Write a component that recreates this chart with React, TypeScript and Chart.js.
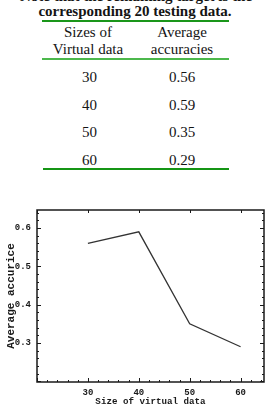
import React, { useEffect, useRef } from "react";
import { Chart, registerables } from "chart.js";

Chart.register(...registerables);

// ---- data ----
const captionLines = ["Note that the remaining target is the", "corresponding 20 testing data."];
const headerCol1 = ["Sizes of", "Virtual data"];
const headerCol2 = ["Average", "accuracies"];
const sizes = [30, 40, 50, 60];
const accuracies = [0.56, 0.59, 0.35, 0.29];
const xTickValues = [30, 40, 50, 60];
const yTickValues = [0.3, 0.4, 0.5, 0.6];
const xTitle = "Size of virtual data";
const yTitle = "Average accurice";

const SERIF = "'Liberation Serif', 'Times New Roman', serif";
const MONO = "'Liberation Mono', 'DejaVu Sans Mono', monospace";

function Txt(props: { text: string; cx: number; baseline: number; size: number; bold?: boolean }) {
  const { text, cx, baseline, size, bold } = props;
  return (
    <div
      style={{
        position: "absolute",
        left: cx - 150,
        width: 300,
        textAlign: "center",
        top: baseline - 0.8375 * size,
        fontSize: size,
        lineHeight: `${size}px`,
        fontFamily: SERIF,
        fontWeight: bold ? "bold" : "normal",
        color: "#141414",
        whiteSpace: "nowrap",
      }}
    >
      {text}
    </div>
  );
}

function Rule(props: { top: number; x1: number; x2: number; h: number; color: string }) {
  const { top, x1, x2, h, color } = props;
  return <div style={{ position: "absolute", left: x1, width: x2 - x1, top, height: h, background: color }} />;
}

const framePlugin = {
  id: "mmaFrame",
  afterDraw(chart: any) {
    const { ctx, chartArea: a, scales } = chart;
    const x = scales.x;
    const y = scales.y;
    ctx.save();
    ctx.strokeStyle = "#1a1a1a";
    ctx.lineWidth = 1;
    ctx.beginPath();
    for (let i = 10; i <= 32; i++) {
      const v = i * 2;
      const px = Math.round(x.getPixelForValue(v)) + 0.5;
      const major = i % 5 === 0;
      ctx.moveTo(px, a.bottom);
      ctx.lineTo(px, a.bottom - (major ? 4 : 2));
      if (major) {
        ctx.moveTo(px, a.top);
        ctx.lineTo(px, a.top + 3);
      }
    }
    for (let i = 10; i <= 32; i++) {
      const v = i / 50;
      const py = Math.round(y.getPixelForValue(v)) + 0.5;
      const major = i % 5 === 0;
      const len = major ? 4 : 2;
      ctx.moveTo(a.left, py);
      ctx.lineTo(a.left + len, py);
      ctx.moveTo(a.right, py);
      ctx.lineTo(a.right - len, py);
    }
    ctx.stroke();
    ctx.lineWidth = 1.5;
    ctx.strokeRect(a.left, a.top, a.right - a.left, a.bottom - a.top);
    ctx.restore();
  },
};

function LineChart() {
  const ref = useRef<HTMLCanvasElement>(null);
  useEffect(() => {
    if (!ref.current) return;
    const tickFont = { family: MONO, size: 9, weight: "bold" as const };
    const chart = new Chart(ref.current, {
      type: "line",
      data: {
        datasets: [
          {
            data: sizes.map((s, i) => ({ x: s, y: accuracies[i] })),
            borderColor: "#333333",
            borderWidth: 1.3,
            pointRadius: 0,
            tension: 0,
            fill: false,
          },
        ],
      },
      options: {
        animation: false,
        responsive: false,
        devicePixelRatio: 1,
        layout: { padding: { top: 15, right: 8, left: 0, bottom: 0 } },
        plugins: { legend: { display: false }, tooltip: { enabled: false } },
        scales: {
          x: {
            type: "linear",
            min: 20,
            max: 64.6,
            grid: { display: false, drawTicks: false },
            border: { display: false },
            afterBuildTicks: (s: any) => {
              s.ticks = xTickValues.map((v) => ({ value: v }));
            },
            afterFit: (s: any) => {
              s.height = 25;
            },
            ticks: { font: tickFont, color: "#1a1a1a", padding: 5, maxRotation: 0, callback: (v: any) => String(v) },
            title: { display: true, text: xTitle, font: { family: MONO, size: 9.2, weight: "bold", lineHeight: 1.2 }, color: "#1a1a1a", padding: { top: 0, bottom: 0 } },
          },
          y: {
            type: "linear",
            min: 0.198,
            max: 0.647,
            grid: { display: false, drawTicks: false },
            border: { display: false },
            afterBuildTicks: (s: any) => {
              s.ticks = yTickValues.map((v) => ({ value: v }));
            },
            afterFit: (s: any) => {
              s.width = 37;
            },
            ticks: { font: tickFont, color: "#1a1a1a", padding: 6, callback: (v: any) => Number(v).toFixed(1) },
            title: { display: true, text: yTitle, font: { family: MONO, size: 11, weight: "bold", lineHeight: 1.2 }, color: "#1a1a1a", padding: { top: 4.4, bottom: 0 } },
          },
        },
      },
      plugins: [framePlugin],
    } as any);
    return () => chart.destroy();
  }, []);
  return <canvas ref={ref} width={272} height={212} style={{ position: "absolute", left: 0, top: 195, display: "block" }} />;
}

export default function App() {
  const rowBaselines = [83, 111, 138, 166];
  return (
    <div style={{ position: "absolute", left: 0, top: 0, width: 272, height: 407, background: "#fff", overflow: "hidden" }}>
      <Txt text={captionLines[0]} cx={136} baseline={2} size={15} bold />
      <Txt text={captionLines[1]} cx={135} baseline={17} size={15} bold />
      <Rule top={20} x1={42} x2={229} h={2} color="#1a961a" />
      <Txt text={headerCol1[0]} cx={88} baseline={38} size={15} />
      <Txt text={headerCol1[1]} cx={88} baseline={55} size={15} />
      <Txt text={headerCol2[0]} cx={182} baseline={38} size={15} />
      <Txt text={headerCol2[1]} cx={182} baseline={55} size={15} />
      <Rule top={58} x1={42} x2={229} h={2} color="#4cb84c" />
      {sizes.map((s, i) => (
        <Txt key={"s" + i} text={String(s)} cx={89.5} baseline={rowBaselines[i]} size={15} />
      ))}
      {accuracies.map((a, i) => (
        <Txt key={"a" + i} text={a.toFixed(2)} cx={182} baseline={rowBaselines[i]} size={15} />
      ))}
      <Rule top={168} x1={43} x2={229} h={2} color="#159515" />
      <LineChart />
    </div>
  );
}
